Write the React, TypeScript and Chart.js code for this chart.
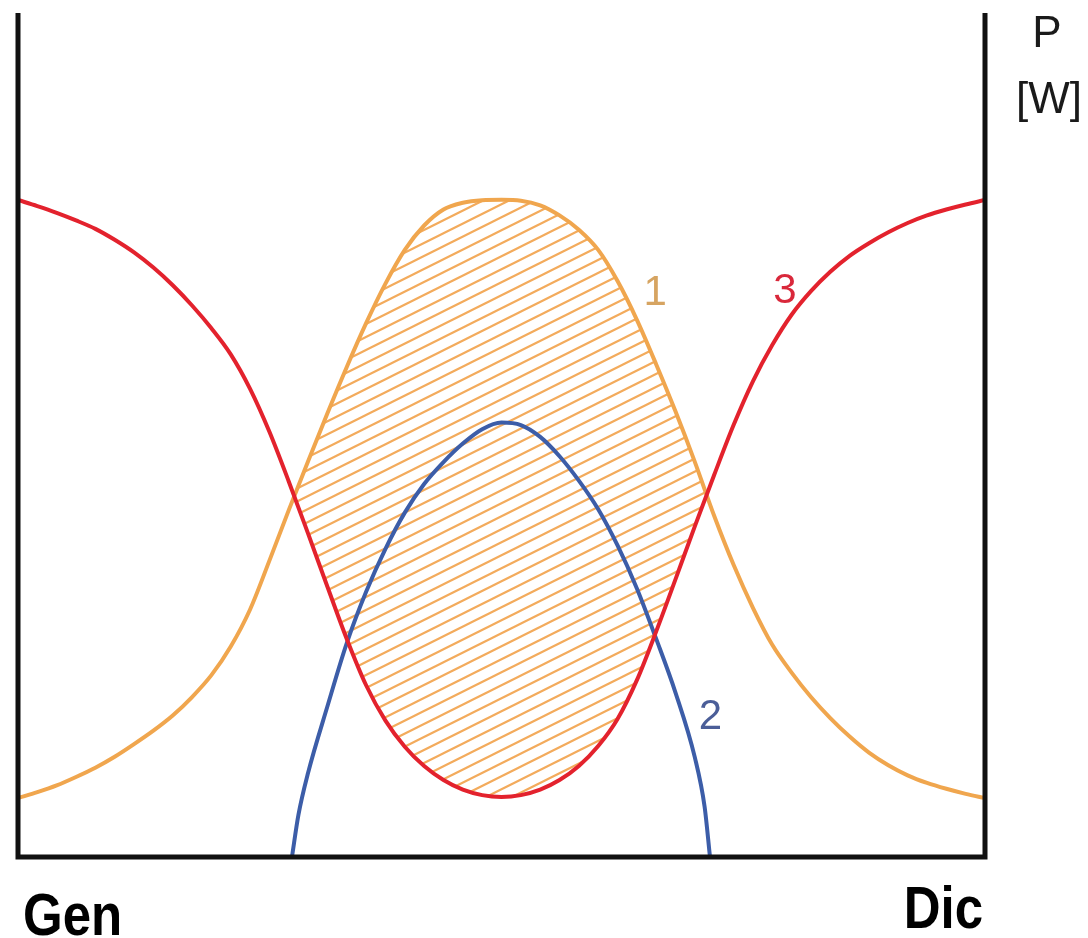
import React, { useEffect, useRef } from "react";
import { Chart, registerables } from "chart.js";

Chart.register(...registerables);

// Shared month-position grid for curves 1 and 3 (0 = Gen, 100 = Dic)
const monthGrid = [0, 2, 4, 6, 8, 10, 12, 14, 16, 18, 20, 22, 24, 26, 28, 30, 32, 34, 36, 38, 40, 42, 44, 46, 48, 50, 52, 54, 56, 58, 60, 62, 64, 66, 68, 70, 72, 74, 76, 78, 80, 82, 84, 86, 88, 90, 92, 94, 96, 98, 100];

// Curve 1: power demand (bell shape across the year)
const curve1Y = [7.0, 7.7, 8.5, 9.5, 10.6, 11.9, 13.4, 15.0, 16.8, 19.0, 21.6, 25.0, 29.4, 35.2, 41.2, 47.0, 52.7, 58.2, 63.4, 68.1, 72.1, 75.0, 76.9, 77.7, 78.0, 78.05, 77.95, 77.4, 76.2, 74.5, 72.1, 68.4, 63.8, 58.5, 52.9, 46.9, 40.5, 34.7, 29.6, 25.2, 21.9, 19.0, 16.5, 14.3, 12.4, 10.9, 9.7, 8.8, 8.1, 7.5, 7.0];

// Curve 3: heating losses
const curve3Y = [78.03, 77.3, 76.5, 75.6, 74.6, 73.3, 71.8, 70.0, 67.9, 65.5, 62.8, 59.7, 55.6, 50.5, 44.6, 38.4, 32.1, 25.9, 20.4, 16.2, 13.1, 10.8, 9.14, 8.0, 7.35, 7.13, 7.35, 8.0, 9.14, 10.81, 13.18, 16.39, 21.0, 26.8, 33.0, 39.3, 45.4, 51.3, 56.5, 60.8, 64.4, 67.2, 69.5, 71.4, 72.9, 74.2, 75.3, 76.2, 76.9, 77.5, 78.03];

// Curve 2: solar contribution (only in the middle of the year)
const curve2X = [28.33, 29, 30, 32, 34, 36, 38, 40, 42, 44, 46, 48, 50, 52, 54, 56, 58, 60, 62, 64, 66, 68, 70, 71, 71.56];
const curve2Y = [0, 5.0, 10.0, 17.9, 25.4, 31.5, 36.6, 40.9, 44.3, 46.9, 49.1, 50.8, 51.6, 51.3, 49.9, 47.6, 44.7, 41.3, 37.0, 31.9, 25.9, 19.5, 11.8, 6.0, 0];

const curveNames = ["1", "2", "3"];
const xEndLabels = ["Gen", "Dic"];
const yUnitLabels = ["P", "[W]"];

const ORANGE = "#F0A64E";
const HATCH = "#F3AB5C";
const RED = "#E3222D";
const BLUE = "#3C5DA8";

const toPoints = (xs: number[], ys: number[]) => xs.map((x, i) => ({ x, y: ys[i] }));

function makeHatch(): CanvasPattern | string {
  const tile = document.createElement("canvas");
  const w = 26;
  const h = 13;
  tile.width = w;
  tile.height = h;
  const c = tile.getContext("2d");
  if (!c) return HATCH;
  c.strokeStyle = HATCH;
  c.lineWidth = 2.2;
  for (let k = -1; k <= 2; k++) {
    const off = h * k;
    c.beginPath();
    c.moveTo(-4, h + off + 2);
    c.lineTo(w + 4, off - 2);
    c.stroke();
  }
  const p = c.createPattern(tile, "repeat");
  return p || HATCH;
}

// Frame: left, bottom and right axis lines
const framePlugin = {
  id: "frame",
  afterDatasetsDraw(chart: any) {
    const { ctx, chartArea } = chart;
    ctx.save();
    ctx.strokeStyle = "#111";
    ctx.lineWidth = 5;
    ctx.lineJoin = "miter";
    ctx.beginPath();
    ctx.moveTo(chartArea.left, chartArea.top - 2);
    ctx.lineTo(chartArea.left, chartArea.bottom);
    ctx.lineTo(chartArea.right, chartArea.bottom);
    ctx.lineTo(chartArea.right, chartArea.top - 2);
    ctx.stroke();
    ctx.restore();
  },
};

// Curve numbers, axis-end labels and the unit label
const labelsPlugin = {
  id: "labels",
  afterDraw(chart: any) {
    const { ctx, scales, chartArea } = chart;
    const xs = scales.x;
    const ys = scales.y;
    ctx.save();
    ctx.textAlign = "center";
    ctx.textBaseline = "alphabetic";
    ctx.font = "42px 'Liberation Sans', Arial, sans-serif";
    const tags = [
      { t: curveNames[0], x: 65.9, y: 65.6, c: "#D6A461" },
      { t: curveNames[1], x: 71.6, y: 15.2, c: "#4B5E98" },
      { t: curveNames[2], x: 79.3, y: 65.8, c: "#D9283B" },
    ];
    tags.forEach((g) => {
      ctx.fillStyle = g.c;
      ctx.fillText(g.t, xs.getPixelForValue(g.x), ys.getPixelForValue(g.y));
    });

    ctx.fillStyle = "#1a1a1a";
    ctx.font = "44px 'Liberation Sans', Arial, sans-serif";
    const ux = chartArea.right + 62;
    ctx.fillText(yUnitLabels[0], ux, chartArea.top + 32);
    ctx.fillText(yUnitLabels[1], ux + 2, chartArea.top + 98);

    ctx.fillStyle = "#000";
    ctx.font = "bold 60px 'Liberation Sans', Arial, sans-serif";
    const sx = 0.85;
    ctx.save();
    ctx.translate(chartArea.left + 5, chartArea.bottom + 78);
    ctx.scale(sx, 1);
    ctx.textAlign = "left";
    ctx.fillText(xEndLabels[0], 0, 0);
    ctx.restore();
    ctx.save();
    ctx.translate(chartArea.right - 2, chartArea.bottom + 71);
    ctx.scale(sx, 1);
    ctx.textAlign = "right";
    ctx.fillText(xEndLabels[1], 0, 0);
    ctx.restore();
    ctx.restore();
  },
};

export default function App() {
  const canvasRef = useRef<HTMLCanvasElement | null>(null);

  useEffect(() => {
    if (!canvasRef.current) return;
    const hatch = makeHatch();
    const lineBase = {
      borderWidth: 4,
      pointRadius: 0,
      cubicInterpolationMode: "monotone" as const,
    };
    const chart = new Chart(canvasRef.current, {
      type: "line",
      data: {
        datasets: [
          {
            ...lineBase,
            label: curveNames[0],
            data: toPoints(monthGrid, curve1Y),
            borderColor: ORANGE,
            backgroundColor: hatch as any,
            fill: { target: 2, above: hatch as any, below: "rgba(0,0,0,0)" },
            order: 3,
          },
          {
            ...lineBase,
            label: curveNames[1],
            data: toPoints(curve2X, curve2Y),
            borderColor: BLUE,
            fill: false,
            order: 2,
          },
          {
            ...lineBase,
            label: curveNames[2],
            data: toPoints(monthGrid, curve3Y),
            borderColor: RED,
            fill: false,
            order: 1,
          },
        ],
      },
      options: {
        animation: false,
        responsive: true,
        maintainAspectRatio: false,
        layout: { padding: { left: 18, right: 103, top: 15, bottom: 81 } },
        scales: {
          x: { type: "linear", min: 0, max: 100, display: false },
          y: { type: "linear", min: 0, max: 100, display: false },
        },
        plugins: {
          legend: { display: false },
          tooltip: { enabled: false },
        },
      },
      plugins: [framePlugin, labelsPlugin],
    });
    return () => chart.destroy();
  }, []);

  return (
    <div style={{ position: "fixed", left: 0, top: 0, width: 1088, height: 938, background: "#fff" }}>
      <canvas ref={canvasRef} />
    </div>
  );
}
